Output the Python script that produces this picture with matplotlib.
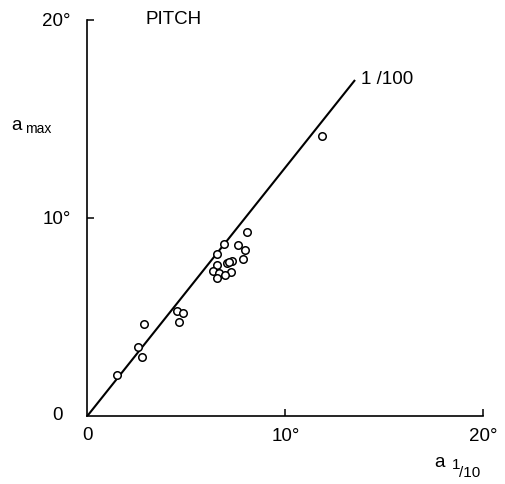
import matplotlib
matplotlib.use("Agg")
import matplotlib.pyplot as plt

plt.rcParams["font.family"] = ["Liberation Sans", "DejaVu Sans"]

# data (degrees)
a_1_10 = [11.83, 8.05, 6.92, 7.63, 7.96, 6.55, 7.85, 7.32, 7.05, 7.15, 6.57, 6.33,
          6.67, 7.24, 6.97, 6.55, 4.51, 4.81, 4.61, 2.86, 2.58, 2.78, 1.48]
a_max = [14.16, 9.28, 8.67, 8.62, 8.38, 8.18, 7.91, 7.83, 7.72, 7.78, 7.63, 7.32,
         7.24, 7.29, 7.12, 6.99, 5.32, 5.19, 4.76, 4.65, 3.50, 3.00, 2.07]
line_x = [0.0, 13.52]
line_y = [0.0, 16.97]
ticks = [0, 10, 20]
x_ticklabels = ["0", "10°", "20°"]
y_ticklabels = ["0", "10°", "20°"]

FS = 13.5

fig = plt.figure(figsize=(5.05, 4.84), dpi=100)
ax = fig.add_axes([0.1729, 0.1405, 0.7842, 0.8182])
ax.set_xlim(0, 20)
ax.set_ylim(0, 20)
ax.spines["top"].set_visible(False)
ax.spines["right"].set_visible(False)
for s in ("left", "bottom"):
    ax.spines[s].set_linewidth(1.2)

ax.plot(line_x, line_y, color="black", lw=1.5, zorder=2, solid_capstyle="butt")
ax.plot(a_1_10, a_max, linestyle="none", marker="o", markersize=5.4,
        markerfacecolor="white", markeredgecolor="black", markeredgewidth=1.1,
        zorder=3, clip_on=False)

ax.set_xticks(ticks[1:])
ax.set_yticks(ticks[1:])
ax.set_xticklabels(x_ticklabels[1:])
ax.set_yticklabels(y_ticklabels[1:])
ax.tick_params(direction="in", length=5, width=1.1, labelsize=FS)
ax.tick_params(axis="x", pad=9)
ax.tick_params(axis="y", pad=12)

# origin labels
ax.text(-1.5, 0.05, y_ticklabels[0], ha="center", va="center", fontsize=FS, clip_on=False)
ax.text(0.0, -1.0, x_ticklabels[0], ha="center", va="center", fontsize=FS, clip_on=False)

ax.text(2.95, 20.0, "PITCH", ha="left", va="center", fontsize=FS, clip_on=False)
ax.text(13.8, 17.0, "1 /100", ha="left", va="center", fontsize=FS, clip_on=False)

# axis labels
ax.text(-3.6, 14.68, "a", ha="center", va="center", fontsize=FS, clip_on=False)
ax.text(-3.15, 14.5, "max", ha="left", va="center", fontsize=10, clip_on=False)
ax.text(17.8, -2.35, "a", ha="center", va="center", fontsize=FS, clip_on=False)
ax.text(18.4, -2.5, "1", ha="left", va="center", fontsize=11, clip_on=False)
ax.text(18.75, -2.9, "/10", ha="left", va="center", fontsize=11, clip_on=False)

fig.savefig("out.png", dpi=100)
